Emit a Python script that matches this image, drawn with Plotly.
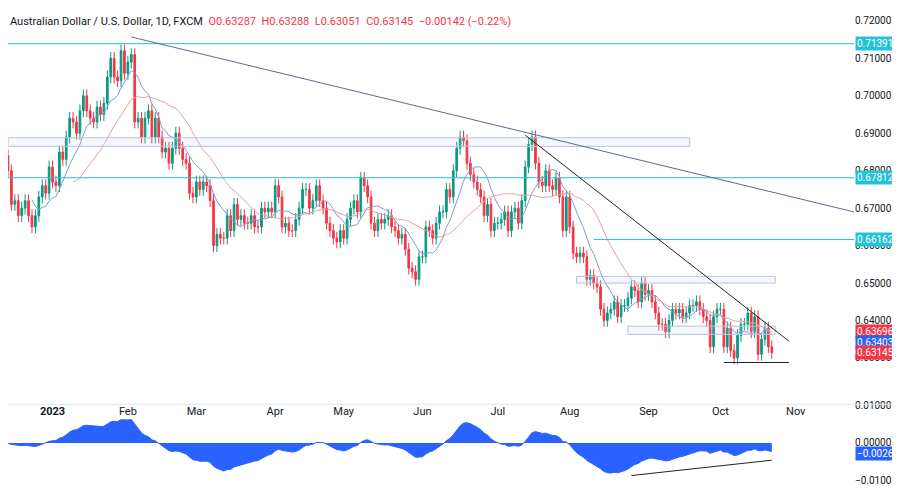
import pandas as pd
import plotly.graph_objects as go

# daily closes (Dec 13 2022 .. Oct 23 2023, weekdays)
closes_dec = [0.684, 0.680, 0.671, 0.672, 0.668, 0.670, 0.672, 0.668, 0.665, 0.668, 0.673, 0.676, 0.674, 0.681]
closes_jan = [0.677, 0.676, 0.685, 0.683, 0.689, 0.694, 0.693, 0.690, 0.696, 0.700, 0.696, 0.694, 0.693, 0.697,
              0.695, 0.698, 0.705, 0.710, 0.705, 0.704, 0.712, 0.706]
closes_feb = [0.709, 0.711, 0.693, 0.694, 0.689, 0.694, 0.696, 0.689, 0.694, 0.689, 0.685, 0.686, 0.682, 0.686,
              0.690, 0.686, 0.683, 0.682, 0.674, 0.673]
closes_mar = [0.677, 0.675, 0.677, 0.676, 0.672, 0.660, 0.663, 0.662, 0.662, 0.668, 0.664, 0.671, 0.667, 0.668,
              0.666, 0.666, 0.668, 0.665, 0.665, 0.670, 0.669, 0.670, 0.669]
closes_apr = [0.676, 0.673, 0.665, 0.666, 0.664, 0.664, 0.667, 0.670, 0.675, 0.675, 0.670, 0.672, 0.676, 0.672,
              0.670, 0.666, 0.664, 0.662, 0.661, 0.664]
closes_may = [0.662, 0.667, 0.670, 0.672, 0.669, 0.678, 0.676, 0.673, 0.666, 0.664, 0.667, 0.666, 0.667, 0.668,
              0.665, 0.664, 0.662, 0.663, 0.659, 0.654, 0.653, 0.651, 0.657]
closes_jun = [0.657, 0.665, 0.664, 0.662, 0.666, 0.669, 0.669, 0.675, 0.673, 0.680, 0.686, 0.689, 0.688, 0.682,
              0.679, 0.677, 0.675, 0.673, 0.668, 0.671, 0.664, 0.666]
closes_jul = [0.666, 0.667, 0.669, 0.664, 0.669, 0.670, 0.666, 0.672, 0.681, 0.687, 0.689, 0.682, 0.677, 0.676,
              0.680, 0.676, 0.675, 0.678, 0.673, 0.664, 0.673]
closes_aug = [0.665, 0.658, 0.657, 0.658, 0.657, 0.651, 0.652, 0.650, 0.649, 0.643, 0.640, 0.642, 0.643, 0.645,
              0.641, 0.644, 0.644, 0.646, 0.649, 0.648, 0.645, 0.650, 0.647]
closes_sep = [0.648, 0.645, 0.642, 0.639, 0.639, 0.637, 0.640, 0.643, 0.642, 0.643, 0.641, 0.642, 0.644, 0.644,
              0.645, 0.643, 0.641, 0.640, 0.633, 0.641, 0.643]
closes_oct = [0.643, 0.633, 0.638, 0.632, 0.630, 0.636, 0.639, 0.639, 0.642, 0.637, 0.641, 0.631, 0.635, 0.638,
              0.633, 0.63145]

level_lines = [0.71391, 0.67812]
level_aug = 0.66162
price_ticks = [0.63, 0.64, 0.65, 0.66, 0.67, 0.68, 0.69, 0.70, 0.71, 0.72]
month_ticks = ["2023-01-02", "2023-02-01", "2023-03-01", "2023-04-03", "2023-05-01", "2023-06-01",
               "2023-07-03", "2023-08-01", "2023-09-01", "2023-10-02", "2023-11-01"]
month_text = ["<b>2023</b>", "Feb", "Mar", "Apr", "May", "Jun", "Jul", "Aug", "Sep", "Oct", "Nov"]

closes = (closes_dec + closes_jan + closes_feb + closes_mar + closes_apr + closes_may + closes_jun
          + closes_jul + closes_aug + closes_sep + closes_oct)
df = pd.DataFrame({"close": closes}, index=pd.bdate_range("2022-12-13", periods=len(closes)))
df["open"] = df["close"].shift(1).fillna(0.687)
df["high"] = df[["open", "close"]].max(axis=1) + 0.0017
df["low"] = df[["open", "close"]].min(axis=1) - 0.0017
df["ma_fast"] = df["close"].rolling(9).mean()
df["ma_slow"] = df["close"].rolling(21).mean()
df["osc"] = df["close"].ewm(span=12).mean() - df["close"].ewm(span=26).mean()

GREEN, RED, BLUE, TEAL = "#089981", "#f23645", "#2962ff", "#22c3d6"
x_start, x_end = "2022-12-14", "2023-11-24"

fig = go.Figure()
fig.add_trace(go.Candlestick(x=df.index, open=df["open"], high=df["high"], low=df["low"], close=df["close"],
                             increasing=dict(line=dict(color=GREEN, width=1), fillcolor=GREEN),
                             decreasing=dict(line=dict(color=RED, width=1), fillcolor=RED),
                             showlegend=False, yaxis="y"))
fig.add_trace(go.Scatter(x=df.index, y=df["ma_fast"], mode="lines", line=dict(color="#7b9ccf", width=1),
                         showlegend=False, yaxis="y"))
fig.add_trace(go.Scatter(x=df.index, y=df["ma_slow"], mode="lines", line=dict(color="#e8a0a0", width=1),
                         showlegend=False, yaxis="y"))
fig.add_trace(go.Scatter(x=df.index, y=df["osc"], mode="lines", fill="tozeroy", fillcolor=BLUE,
                         line=dict(color=BLUE, width=1), showlegend=False, yaxis="y2"))

shapes = []
for lv in level_lines:
    shapes.append(dict(type="line", xref="x", yref="y", x0=x_start, x1=x_end, y0=lv, y1=lv,
                       line=dict(color=TEAL, width=1)))
shapes.append(dict(type="line", xref="x", yref="y", x0="2023-08-10", x1=x_end, y0=level_aug, y1=level_aug,
                   line=dict(color=TEAL, width=1)))
# zones
for x0, x1, y0, y1 in [(x_start, "2023-09-19", 0.6865, 0.6888),
                       ("2023-08-03", "2023-10-24", 0.6500, 0.6518),
                       ("2023-08-24", "2023-10-24", 0.6363, 0.6385)]:
    shapes.append(dict(type="rect", xref="x", yref="y", x0=x0, x1=x1, y0=y0, y1=y1,
                       line=dict(color="#b7c4e0", width=1), fillcolor="rgba(187,200,230,0.15)"))
# trendlines
shapes.append(dict(type="line", xref="x", yref="y", x0="2023-02-02", x1=x_end, y0=0.7157, y1=0.669,
                   line=dict(color="#5b6b8c", width=1)))
shapes.append(dict(type="line", xref="x", yref="y", x0="2023-07-13", x1="2023-10-30", y0=0.6895, y1=0.6345,
                   line=dict(color="#222", width=1)))
shapes.append(dict(type="line", xref="x", yref="y", x0="2023-10-03", x1="2023-10-30", y0=0.6288, y1=0.6288,
                   line=dict(color="#222", width=1)))
shapes.append(dict(type="line", xref="x", yref="y2", x0="2023-08-25", x1="2023-10-23", y0=-0.0087, y1=-0.0046,
                   line=dict(color="#222", width=1)))
shapes.append(dict(type="line", xref="paper", yref="paper", x0=0, x1=1.06, y0=0.178, y1=0.178,
                   line=dict(color="#e0e3eb", width=1)))

annotations = [dict(xref="paper", yref="paper", x=0.0, y=1.0, xanchor="left", yanchor="top", showarrow=False,
                    text="Australian Dollar / U.S. Dollar, 1D, FXCM  <span style='color:#f23645'>O0.63287  H0.63288  "
                         "L0.63051  C0.63145  −0.00142 (−0.22%)</span>",
                    font=dict(size=11, color="#131722"))]
for val, col, yref in [(0.71391, TEAL, "y"), (0.67812, TEAL, "y"), (0.66162, TEAL, "y"),
                       (0.63696, RED, "y"), (0.63403, BLUE, "y"), (0.63145, RED, "y"), (-0.00269, BLUE, "y2")]:
    annotations.append(dict(xref="paper", yref=yref, x=1.0, y=val, xanchor="left", xshift=1, showarrow=False,
                            text=f"{val:.5f}".replace("-", "−"), bgcolor=col, font=dict(color="white", size=10),
                            borderpad=1, width=46, align="left"))

fig.update_layout(
    width=900, height=501, margin=dict(l=0, r=54, t=0, b=20),
    paper_bgcolor="white", plot_bgcolor="white", font=dict(family="Roboto, DejaVu Sans", size=10, color="#131722"),
    shapes=shapes, annotations=annotations, showlegend=False,
    xaxis=dict(range=[x_start, x_end], rangeslider=dict(visible=False), showgrid=False,
               rangebreaks=[dict(bounds=["sat", "mon"])], tickvals=month_ticks, ticktext=month_text,
               ticks="", zeroline=False, tickfont=dict(size=11)),
    yaxis=dict(domain=[0.18, 1], range=[0.6179, 0.7221], side="right", showgrid=False, zeroline=False,
               tickvals=price_ticks, tickformat=".5f"),
    yaxis2=dict(domain=[0, 0.176], range=[-0.0123, 0.0101], side="right", showgrid=False, zeroline=False,
                tickvals=[0.01, 0.0, -0.01], ticktext=["0.01000", "0.00000", "−0.01000"]),
)
fig.write_html("out.html")
